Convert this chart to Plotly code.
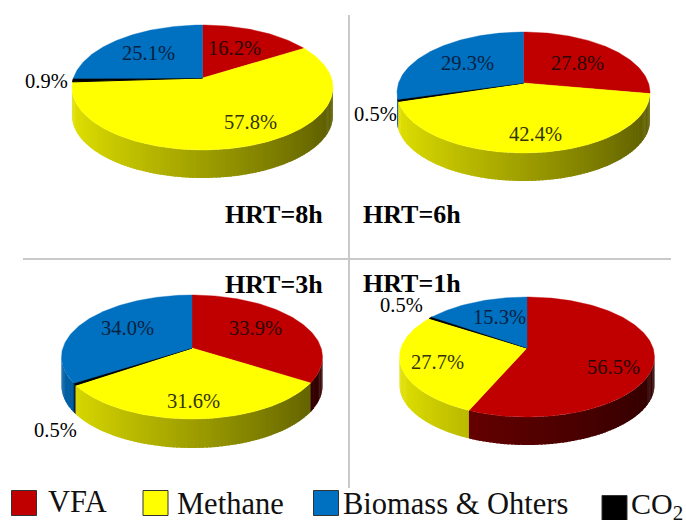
import numpy as np
import plotly.graph_objects as go

# ---- data ----
panels = ["HRT=8h", "HRT=6h", "HRT=3h", "HRT=1h"]
series_names = ["VFA", "Methane", "CO2", "Biomass & Ohters"]
vfa = [16.2, 27.8, 33.9, 56.5]
methane = [57.8, 42.4, 31.6, 27.7]
co2 = [0.9, 0.5, 0.5, 0.5]
biomass = [25.1, 29.3, 34.0, 15.3]

# ---- layout (pixel space of the page) ----
colors = [(192, 0, 0), (255, 255, 0), (0, 0, 0), (0, 112, 192)]
side_gain = [0.72, 1.0, 1.0, 0.95]
# apex x, apex y, half width, distance apex-top, distance apex-front, wall depth
geom = [
    (202.5, 78, 130.5, 53, 72, 28),
    (523.5, 83, 126.5, 51, 70, 28),
    (192, 348, 130.5, 53, 71, 29),
    (527, 348, 127.5, 51, 69, 28),
]
# label centres per panel, in series order, then title
label_pos = [
    [(234, 48), (250, 122), (46, 81), (148, 53)],
    [(577, 63), (535, 134), (375, 114), (467, 63)],
    [(255, 328), (193, 401), (55, 430), (127, 328)],
    [(613, 367), (437, 362), (401, 305), (499, 317)],
]
title_pos = [(274, 214), (412, 214), (274, 284), (412, 283)]


def persp(g):
    return (g[4] - g[3]) / (g[4] + g[3])


def project(g, theta):
    ax, ay, hw, up, down, _ = g
    p = persp(g)
    ky = up * (1 + p)
    kx = hw * np.sqrt(1 - p * p)
    u, v = np.sin(theta), np.cos(theta)
    d = 1 + p * v
    return ax + kx * u / d, ay - ky * v / d


def rgb(c, f=1.0):
    return "rgb({},{},{})".format(*[int(round(x * f)) for x in c])


fig = go.Figure()


def poly(xs, ys, color, line=0.0):
    fig.add_trace(go.Scatter(
        x=list(xs), y=list(ys), mode="lines", fill="toself", fillcolor=color,
        line=dict(color=color, width=line), hoverinfo="skip", showlegend=False))


for i, g in enumerate(geom):
    vals = [vfa[i], methane[i], co2[i], biomass[i]]
    edges = np.cumsum([0] + vals) / sum(vals) * 2 * np.pi
    depth = g[5]
    limit = -persp(g)
    # walls: painted left to right, each strip overlapping the next one
    front = []
    for k in range(4):
        a0, a1 = edges[k], edges[k + 1]
        n = max(1, int(np.ceil((a1 - a0) / 0.025)))
        ts = np.linspace(a0, a1, n + 1)
        for t0, t1 in zip(ts[:-1], ts[1:]):
            tm = (t0 + t1) / 2
            if np.cos(tm) <= limit:
                front.append((k, t0, t1, tm))
    front.sort(key=lambda s: -s[3])   # left side of the picture first
    for k, t0, t1, tm in front:
        f = 0.85 if k == 3 else (0.62 - 0.27 * np.sin(tm)) * side_gain[k]
        x0, y0 = project(g, t0)
        xa, ya = project(g, t1)
        # t0 is the right end of a strip; reach over the seam with its left neighbour
        xb, yb = project(g, t0 - 0.012 if k != 2 else t0)
        poly([xb, xa, xa, xb, xb], [yb, ya, ya + depth, yb + depth, yb], rgb(colors[k], f))
    # top face
    for k in range(4):
        a0, a1 = edges[k], edges[k + 1]
        ts = np.linspace(a0, a1, max(3, int((a1 - a0) / 0.02)))
        px, py = project(g, ts)
        poly(np.r_[g[0], px, g[0]], np.r_[g[1], py, g[1]], rgb(colors[k]), 1.0 if k == 2 else 0.4)

# separators
fig.add_trace(go.Scatter(x=[349, 349], y=[15, 488], mode="lines", line=dict(color="#c9c9c9", width=2),
                         hoverinfo="skip", showlegend=False))
fig.add_trace(go.Scatter(x=[23, 671], y=[259, 259], mode="lines", line=dict(color="#c9c9c9", width=2),
                         hoverinfo="skip", showlegend=False))

# legend swatches
swatches = [(24, 503), (155.5, 503), (326, 503), (614.5, 508)]
fig.add_trace(go.Scatter(
    x=[s[0] for s in swatches], y=[s[1] for s in swatches], mode="markers",
    marker=dict(symbol="square", size=25, color=[rgb(c) for c in colors[:2] + [colors[3], colors[2]]],
                line=dict(color="#333333", width=1)),
    hoverinfo="skip", showlegend=False))

ann = []


def text(x, y, s, size, bold=False, color="#111111", anchor="center"):
    ann.append(dict(x=x, y=y, xref="x", yref="y", text=f"<b>{s}</b>" if bold else s, showarrow=False,
                    xanchor=anchor, yanchor="middle",
                    font=dict(family="Liberation Serif", size=size, color=color)))


for i, name in enumerate(panels):
    vals = [vfa[i], methane[i], co2[i], biomass[i]]
    for k, v in enumerate(vals):
        c = "#000000" if k == 2 else ("#2a0606" if k == 0 else ("#33330a" if k == 1 else "#08223f"))
        text(label_pos[i][k][0], label_pos[i][k][1], f"{v:.1f}%", 20.5, color=c)
    text(title_pos[i][0], title_pos[i][1], name, 26, bold=True, color="#000000")

text(46, 502, series_names[0], 30.5, anchor="left")
text(175, 504, series_names[1], 30.5, anchor="left")
text(341, 504, series_names[3], 30.5, anchor="left")
text(629, 506, "CO<sub>2</sub>", 30, anchor="left")

fig.update_layout(
    width=686, height=520, margin=dict(l=0, r=0, t=0, b=0),
    paper_bgcolor="white", plot_bgcolor="white", annotations=ann, showlegend=False,
    xaxis=dict(range=[0, 686], visible=False, fixedrange=True),
    yaxis=dict(range=[520, 0], visible=False, fixedrange=True),
)
fig.write_html("out.html", config=dict(displayModeBar=False),
               post_script="document.body.style.margin='0';document.body.style.overflow='hidden';")
